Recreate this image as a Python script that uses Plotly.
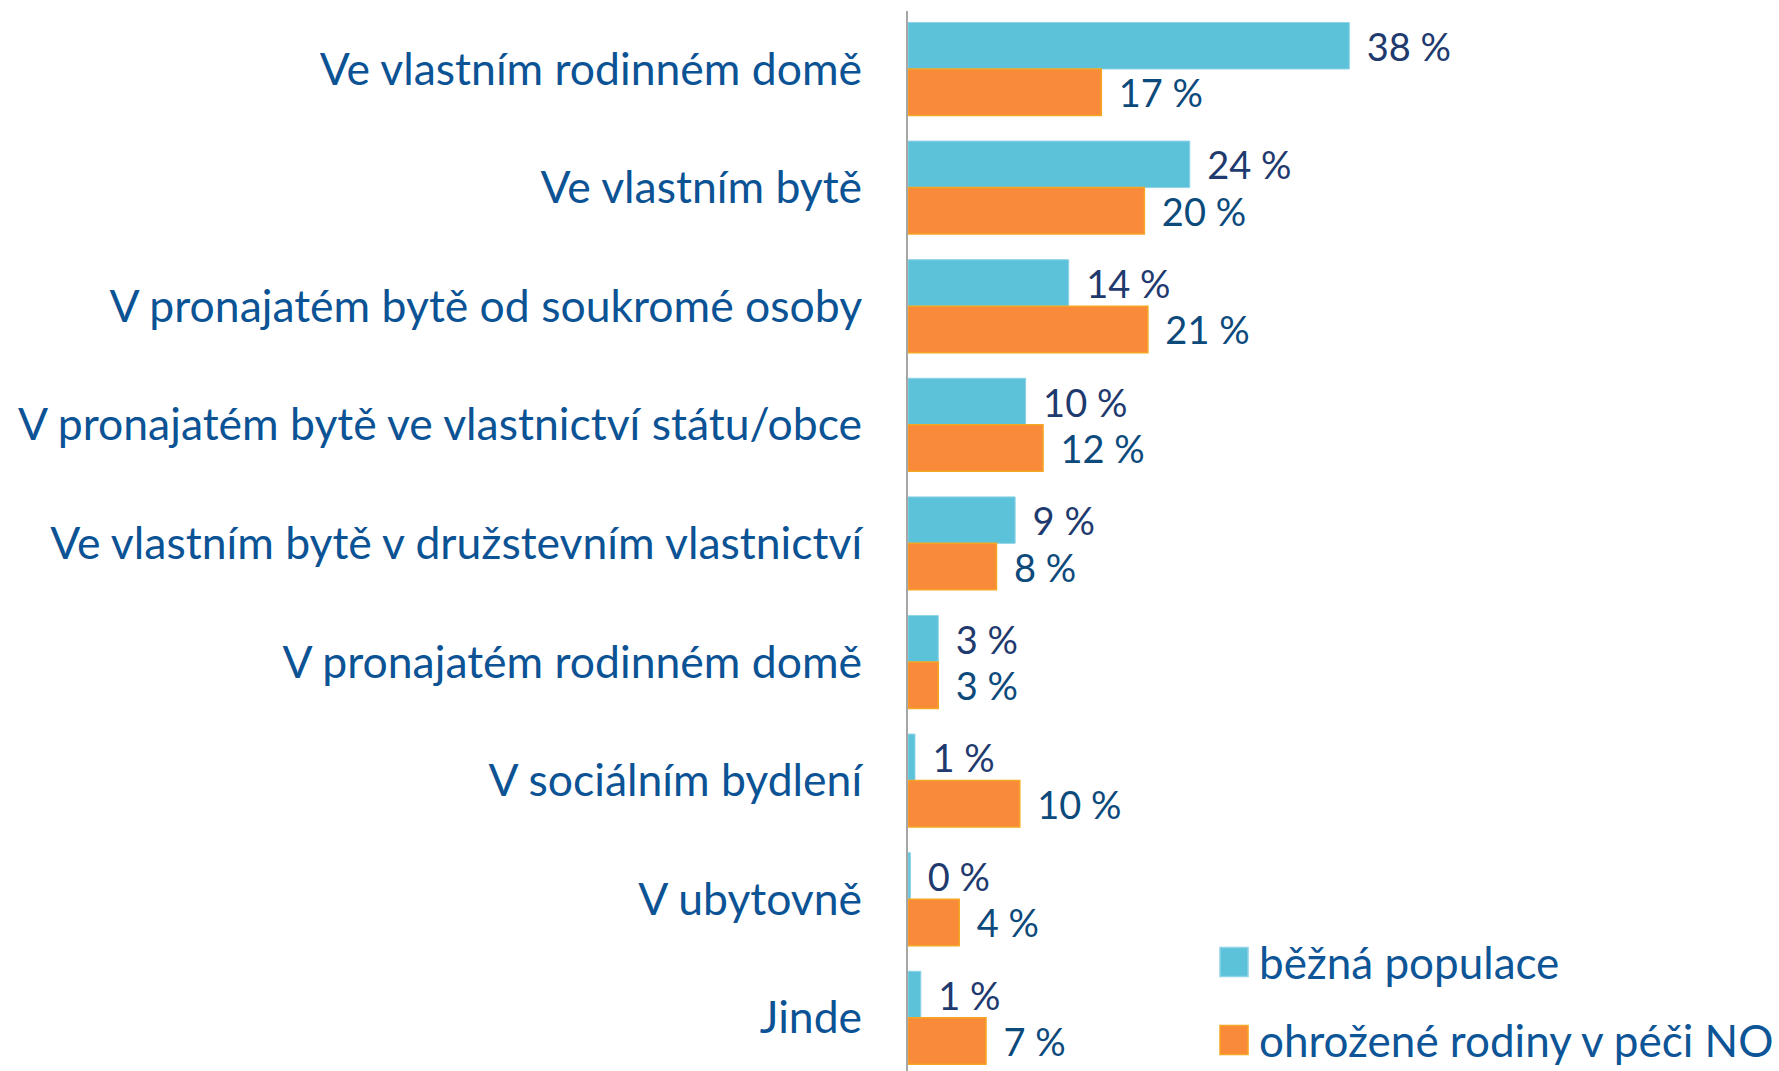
import plotly.graph_objects as go

categories = [
    "Ve vlastním rodinném domě",
    "Ve vlastním bytě",
    "V pronajatém bytě od soukromé osoby",
    "V pronajatém bytě ve vlastnictví státu/obce",
    "Ve vlastním bytě v družstevním vlastnictví",
    "V pronajatém rodinném domě",
    "V sociálním bydlení",
    "V ubytovně",
    "Jinde",
]
series_names = ["běžná populace", "ohrožené rodiny v péči NO"]
bezna = [37.9, 24.2, 13.8, 10.1, 9.2, 2.6, 0.6, 0.2, 1.1]
ohrozene = [16.6, 20.3, 20.6, 11.6, 7.6, 2.6, 9.6, 4.4, 6.7]

FONT = "Lato"
CYAN = "#5BC2D9"
ORANGE = "#F98A3A"
PAD = "\u00a0\u2009"

fig = go.Figure()
fig.add_trace(go.Bar(
    y=categories, x=bezna, orientation="h", name=series_names[0],
    marker=dict(color=CYAN, line=dict(color="#8FD3E6", width=1)),
    texttemplate=PAD + "%{x:.0f} %", textposition="outside",
    textfont=dict(family=FONT, size=38, color="#1F3A6E"),
    constraintext="none", cliponaxis=False, showlegend=False,
))
fig.add_trace(go.Bar(
    y=categories, x=ohrozene, orientation="h", name=series_names[1],
    marker=dict(color=ORANGE, line=dict(color="#F5A623", width=1.5)),
    texttemplate=PAD + "%{x:.0f} %", textposition="outside",
    textfont=dict(family=FONT, size=38, color="#0D4A7C"),
    constraintext="none", cliponaxis=False, showlegend=False,
))

# manual legend (large square swatches)
legend_rows = [(0.1028, CYAN, "#8FD3E6"), (0.0292, ORANGE, "#F5A623")]
for (yc, col, lcol), name in zip(legend_rows, series_names):
    fig.add_shape(type="rect", xref="paper", yref="paper",
                  x0=0.3582, x1=0.3904, y0=yc - 0.0137, y1=yc + 0.0137,
                  fillcolor=col, line=dict(color=lcol, width=1.5))
    fig.add_annotation(xref="paper", yref="paper", x=0.4005, y=yc,
                       xanchor="left", yanchor="middle", text=name,
                       showarrow=False,
                       font=dict(family=FONT, size=44, color="#0D5596"))

fig.update_layout(
    width=1779, height=1071,
    margin=dict(l=908, r=0, t=11, b=0, autoexpand=False),
    plot_bgcolor="white", paper_bgcolor="white",
    barmode="group", bargap=0.216, bargroupgap=0,
    font=dict(family=FONT),
    xaxis=dict(range=[0, 74.8], visible=False, fixedrange=True),
    yaxis=dict(
        categoryorder="array", categoryarray=categories,
        range=[8.449, -0.489],
        showline=True, linecolor="#A6A6A6", linewidth=2,
        showgrid=False, zeroline=False, ticks="",
        ticklabelstandoff=35,
        tickfont=dict(family=FONT, size=44.5, color="#0B5394"),
        automargin=False,
    ),
)

fig.write_html("out.html", config={"displayModeBar": False},
               post_script="document.body.style.margin='0';")
